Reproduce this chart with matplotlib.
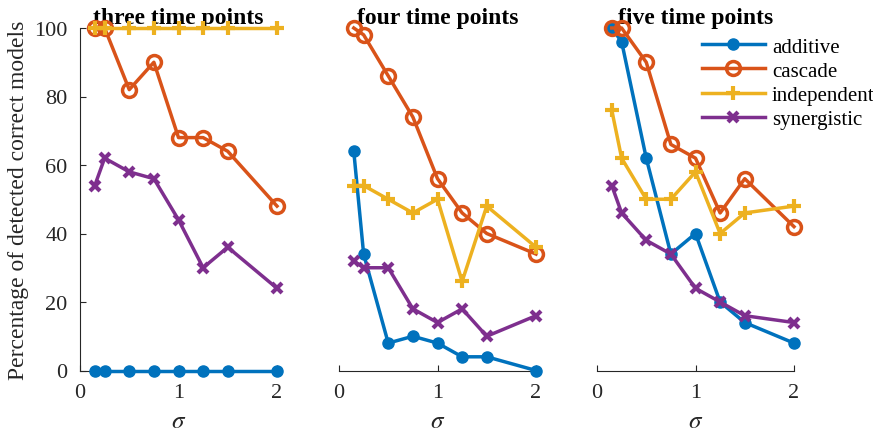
import matplotlib
matplotlib.use("Agg")
import matplotlib.pyplot as plt

plt.rcParams['font.family'] = ['Liberation Serif', 'DejaVu Serif']
plt.rcParams['mathtext.fontset'] = 'stix'

sigma = [0.15, 0.25, 0.5, 0.75, 1, 1.25, 1.5, 2]
titles = ['three time points', 'four time points', 'five time points']
model_names = ['additive', 'cascade', 'independent', 'synergistic']

# percentages per panel, one list per model
three_additive = [0, 0, 0, 0, 0, 0, 0, 0]
three_cascade = [100, 100, 82, 90, 68, 68, 64, 48]
three_independent = [100, 100, 100, 100, 100, 100, 100, 100]
three_synergistic = [54, 62, 58, 56, 44, 30, 36, 24]

four_additive = [64, 34, 8, 10, 8, 4, 4, 0]
four_cascade = [100, 98, 86, 74, 56, 46, 40, 34]
four_independent = [54, 54, 50, 46, 50, 26, 48, 36]
four_synergistic = [32, 30, 30, 18, 14, 18, 10, 16]

five_additive = [100, 96, 62, 34, 40, 20, 14, 8]
five_cascade = [100, 100, 90, 66, 62, 46, 56, 42]
five_independent = [76, 62, 50, 50, 58, 40, 46, 48]
five_synergistic = [54, 46, 38, 34, 24, 20, 16, 14]

panels = [
    [three_additive, three_cascade, three_independent, three_synergistic],
    [four_additive, four_cascade, four_independent, four_synergistic],
    [five_additive, five_cascade, five_independent, five_synergistic],
]

colors = ['#0072BD', '#D95319', '#EDB120', '#7E2F8E']
styles = [
    dict(marker='o', markersize=8, markerfacecolor=colors[0]),
    dict(marker='o', markersize=10, markerfacecolor='none', markeredgewidth=2.5),
    dict(marker='+', markersize=10, markeredgewidth=3),
    dict(marker='x', markersize=7, markeredgewidth=3),
]

fig = plt.figure(figsize=(8.73, 4.39), dpi=100)
lefts = [80 / 873, 339 / 873, 597 / 873]
w = 197 / 873
bottom = 1 - 371.5 / 439
h = 342.5 / 439
axc = '#262626'

for i, series in enumerate(panels):
    ax = fig.add_axes([lefts[i], bottom, w, h])
    for j, vals in enumerate(series):
        ax.plot(sigma, vals, color=colors[j], lw=2.5, clip_on=False,
                label=model_names[j], zorder=3 + j * 0.1, **styles[j])
    ax.set_xlim(0, 2)
    ax.set_ylim(0, 100)
    ax.set_xticks([0, 1, 2])
    ax.spines['top'].set_visible(False)
    ax.spines['right'].set_visible(False)
    ax.spines['bottom'].set_color(axc)
    ax.tick_params(direction='in', labelsize=16, colors=axc, length=4, pad=9)
    if i == 0:
        ax.set_yticks([0, 20, 40, 60, 80, 100])
        ax.spines['left'].set_color(axc)
        ax.set_ylabel('Percentage of detected correct models', fontsize=17,
                      color=axc, labelpad=4)
    else:
        ax.spines['left'].set_visible(False)
        ax.set_yticks([])
    ax.set_xlabel(r'$\sigma$', fontsize=18, color=axc, labelpad=6)
    ax.set_title(titles[i], fontsize=17, fontweight='bold', pad=2)
    if i == 2:
        ax.legend(loc='upper left', bbox_to_anchor=(702 / 873, 1 - 38 / 439),
                  bbox_transform=fig.transFigure, frameon=False, fontsize=15,
                  borderpad=0, borderaxespad=0, handlelength=3.0,
                  labelspacing=0.22, handletextpad=0.35)

fig.savefig('out.png', dpi=100)
